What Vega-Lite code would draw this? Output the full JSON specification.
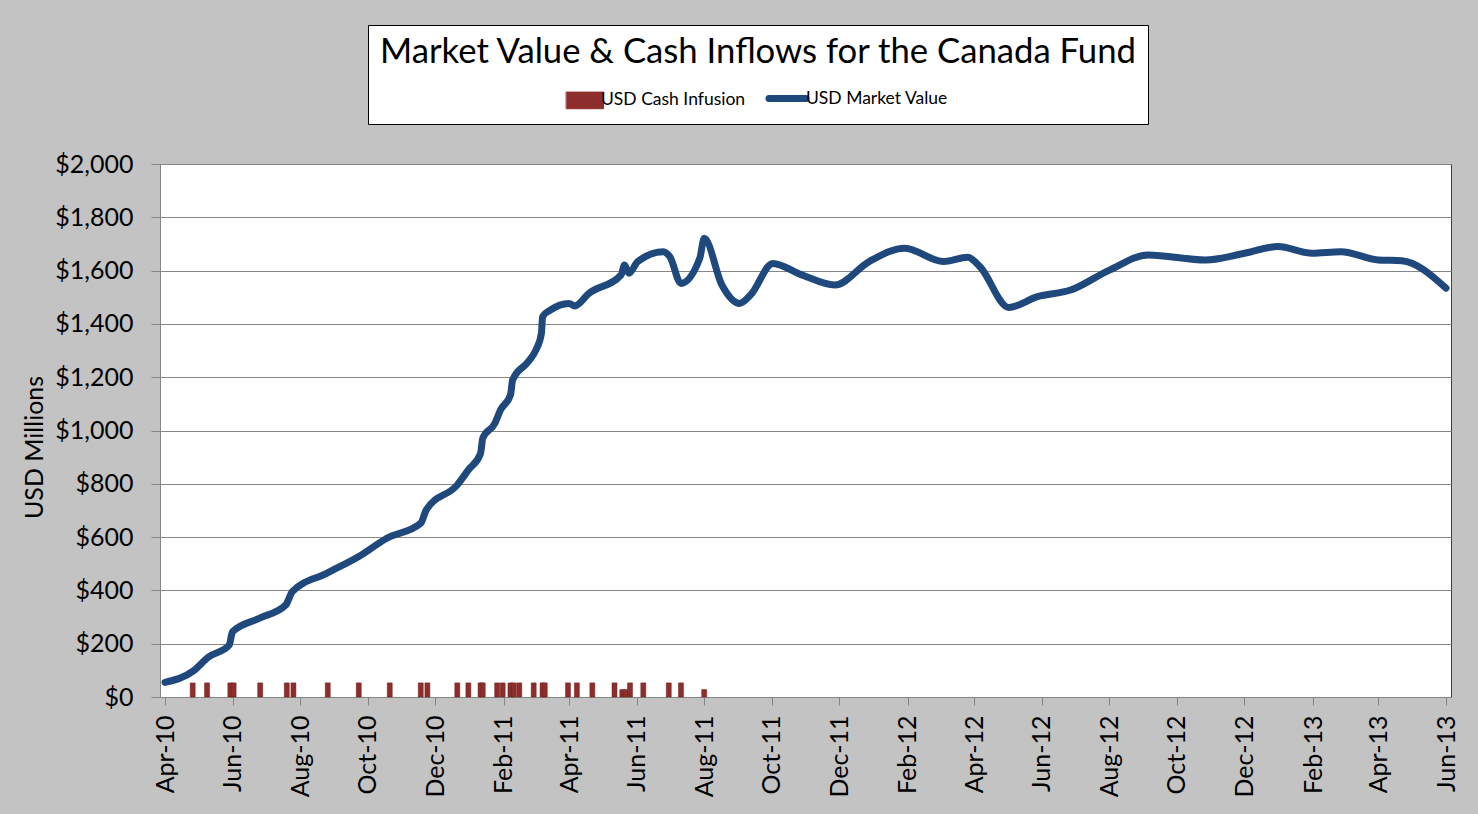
{
  "$schema": "https://vega.github.io/schema/vega-lite/v6.json",
  "width": 1291,
  "height": 533,
  "autosize": {"type": "none"},
  "padding": {"left": 160, "top": 164, "right": 27, "bottom": 117},
  "background": "#C3C3C3",
  "datasets": {
    "inflows": [
      {"date": "2010-04-26", "value": 53, "series": "USD Cash Infusion"},
      {"date": "2010-05-09", "value": 53, "series": "USD Cash Infusion"},
      {"date": "2010-05-30", "value": 53, "series": "USD Cash Infusion"},
      {"date": "2010-06-02", "value": 53, "series": "USD Cash Infusion"},
      {"date": "2010-06-26", "value": 53, "series": "USD Cash Infusion"},
      {"date": "2010-07-20", "value": 53, "series": "USD Cash Infusion"},
      {"date": "2010-07-26", "value": 53, "series": "USD Cash Infusion"},
      {"date": "2010-08-26", "value": 53, "series": "USD Cash Infusion"},
      {"date": "2010-09-23", "value": 53, "series": "USD Cash Infusion"},
      {"date": "2010-10-21", "value": 53, "series": "USD Cash Infusion"},
      {"date": "2010-11-18", "value": 53, "series": "USD Cash Infusion"},
      {"date": "2010-11-24", "value": 53, "series": "USD Cash Infusion"},
      {"date": "2010-12-21", "value": 53, "series": "USD Cash Infusion"},
      {"date": "2010-12-31", "value": 53, "series": "USD Cash Infusion"},
      {"date": "2011-01-11", "value": 53, "series": "USD Cash Infusion"},
      {"date": "2011-01-13", "value": 53, "series": "USD Cash Infusion"},
      {"date": "2011-01-26", "value": 53, "series": "USD Cash Infusion"},
      {"date": "2011-01-31", "value": 53, "series": "USD Cash Infusion"},
      {"date": "2011-02-07", "value": 53, "series": "USD Cash Infusion"},
      {"date": "2011-02-10", "value": 53, "series": "USD Cash Infusion"},
      {"date": "2011-02-15", "value": 53, "series": "USD Cash Infusion"},
      {"date": "2011-02-28", "value": 53, "series": "USD Cash Infusion"},
      {"date": "2011-03-08", "value": 53, "series": "USD Cash Infusion"},
      {"date": "2011-03-10", "value": 53, "series": "USD Cash Infusion"},
      {"date": "2011-03-31", "value": 53, "series": "USD Cash Infusion"},
      {"date": "2011-04-08", "value": 53, "series": "USD Cash Infusion"},
      {"date": "2011-04-22", "value": 53, "series": "USD Cash Infusion"},
      {"date": "2011-05-12", "value": 53, "series": "USD Cash Infusion"},
      {"date": "2011-05-19", "value": 28, "series": "USD Cash Infusion"},
      {"date": "2011-05-22", "value": 28, "series": "USD Cash Infusion"},
      {"date": "2011-05-26", "value": 53, "series": "USD Cash Infusion"},
      {"date": "2011-06-07", "value": 53, "series": "USD Cash Infusion"},
      {"date": "2011-06-30", "value": 53, "series": "USD Cash Infusion"},
      {"date": "2011-07-11", "value": 53, "series": "USD Cash Infusion"},
      {"date": "2011-08-01", "value": 28, "series": "USD Cash Infusion"}
    ],
    "market": [
      {"date": "2010-04-01", "value": 55, "series": "USD Market Value"},
      {"date": "2010-04-27", "value": 99, "series": "USD Market Value"},
      {"date": "2010-05-10", "value": 149, "series": "USD Market Value"},
      {"date": "2010-05-29", "value": 195, "series": "USD Market Value"},
      {"date": "2010-06-01", "value": 245, "series": "USD Market Value"},
      {"date": "2010-06-25", "value": 295, "series": "USD Market Value"},
      {"date": "2010-07-19", "value": 345, "series": "USD Market Value"},
      {"date": "2010-07-25", "value": 395, "series": "USD Market Value"},
      {"date": "2010-08-25", "value": 464, "series": "USD Market Value"},
      {"date": "2010-09-23", "value": 527, "series": "USD Market Value"},
      {"date": "2010-10-18", "value": 595, "series": "USD Market Value"},
      {"date": "2010-11-18", "value": 652, "series": "USD Market Value"},
      {"date": "2010-11-23", "value": 702, "series": "USD Market Value"},
      {"date": "2010-12-21", "value": 796, "series": "USD Market Value"},
      {"date": "2010-12-31", "value": 852, "series": "USD Market Value"},
      {"date": "2011-01-11", "value": 914, "series": "USD Market Value"},
      {"date": "2011-01-13", "value": 971, "series": "USD Market Value"},
      {"date": "2011-01-24", "value": 1027, "series": "USD Market Value"},
      {"date": "2011-01-29", "value": 1077, "series": "USD Market Value"},
      {"date": "2011-02-07", "value": 1133, "series": "USD Market Value"},
      {"date": "2011-02-09", "value": 1190, "series": "USD Market Value"},
      {"date": "2011-02-23", "value": 1258, "series": "USD Market Value"},
      {"date": "2011-03-02", "value": 1302, "series": "USD Market Value"},
      {"date": "2011-03-07", "value": 1365, "series": "USD Market Value"},
      {"date": "2011-03-08", "value": 1427, "series": "USD Market Value"},
      {"date": "2011-03-15", "value": 1452, "series": "USD Market Value"},
      {"date": "2011-04-01", "value": 1477, "series": "USD Market Value"},
      {"date": "2011-04-06", "value": 1467, "series": "USD Market Value"},
      {"date": "2011-04-19", "value": 1515, "series": "USD Market Value"},
      {"date": "2011-05-18", "value": 1584, "series": "USD Market Value"},
      {"date": "2011-05-21", "value": 1621, "series": "USD Market Value"},
      {"date": "2011-05-25", "value": 1590, "series": "USD Market Value"},
      {"date": "2011-06-02", "value": 1634, "series": "USD Market Value"},
      {"date": "2011-06-25", "value": 1671, "series": "USD Market Value"},
      {"date": "2011-07-01", "value": 1652, "series": "USD Market Value"},
      {"date": "2011-07-11", "value": 1552, "series": "USD Market Value"},
      {"date": "2011-07-28", "value": 1646, "series": "USD Market Value"},
      {"date": "2011-08-01", "value": 1721, "series": "USD Market Value"},
      {"date": "2011-08-17", "value": 1546, "series": "USD Market Value"},
      {"date": "2011-09-02", "value": 1477, "series": "USD Market Value"},
      {"date": "2011-09-12", "value": 1509, "series": "USD Market Value"},
      {"date": "2011-10-02", "value": 1627, "series": "USD Market Value"},
      {"date": "2011-10-28", "value": 1584, "series": "USD Market Value"},
      {"date": "2011-11-27", "value": 1546, "series": "USD Market Value"},
      {"date": "2011-12-28", "value": 1634, "series": "USD Market Value"},
      {"date": "2012-01-29", "value": 1684, "series": "USD Market Value"},
      {"date": "2012-03-04", "value": 1634, "series": "USD Market Value"},
      {"date": "2012-03-26", "value": 1650, "series": "USD Market Value"},
      {"date": "2012-04-06", "value": 1615, "series": "USD Market Value"},
      {"date": "2012-05-02", "value": 1462, "series": "USD Market Value"},
      {"date": "2012-05-28", "value": 1502, "series": "USD Market Value"},
      {"date": "2012-06-27", "value": 1527, "series": "USD Market Value"},
      {"date": "2012-08-01", "value": 1602, "series": "USD Market Value"},
      {"date": "2012-09-05", "value": 1659, "series": "USD Market Value"},
      {"date": "2012-10-27", "value": 1640, "series": "USD Market Value"},
      {"date": "2012-12-01", "value": 1665, "series": "USD Market Value"},
      {"date": "2012-12-31", "value": 1690, "series": "USD Market Value"},
      {"date": "2013-01-31", "value": 1665, "series": "USD Market Value"},
      {"date": "2013-02-26", "value": 1671, "series": "USD Market Value"},
      {"date": "2013-04-01", "value": 1640, "series": "USD Market Value"},
      {"date": "2013-04-22", "value": 1637, "series": "USD Market Value"},
      {"date": "2013-06-01", "value": 1534, "series": "USD Market Value"}
    ]
  },
  "encoding": {
    "x": {
      "field": "date",
      "type": "temporal",
      "scale": {
        "type": "utc",
        "domain": [
          {"year": 2010, "month": 4, "date": 1, "utc": true},
          {"year": 2013, "month": 6, "date": 1, "utc": true}
        ],
        "nice": false
      },
      "axis": {
        "title": null,
        "labelExpr": "utcFormat(datum.value, '%b-%y')",
        "labelAngle": -90,
        "labelFontSize": 25,
        "labelPadding": 10,
        "tickSize": 8,
        "grid": false,
        "labelOverlap": false,
        "labelFlush": false,
        "values": [
          {"year": 2010, "month": 4, "date": 1, "utc": true},
          {"year": 2010, "month": 6, "date": 1, "utc": true},
          {"year": 2010, "month": 8, "date": 1, "utc": true},
          {"year": 2010, "month": 10, "date": 1, "utc": true},
          {"year": 2010, "month": 12, "date": 1, "utc": true},
          {"year": 2011, "month": 2, "date": 1, "utc": true},
          {"year": 2011, "month": 4, "date": 1, "utc": true},
          {"year": 2011, "month": 6, "date": 1, "utc": true},
          {"year": 2011, "month": 8, "date": 1, "utc": true},
          {"year": 2011, "month": 10, "date": 1, "utc": true},
          {"year": 2011, "month": 12, "date": 1, "utc": true},
          {"year": 2012, "month": 2, "date": 1, "utc": true},
          {"year": 2012, "month": 4, "date": 1, "utc": true},
          {"year": 2012, "month": 6, "date": 1, "utc": true},
          {"year": 2012, "month": 8, "date": 1, "utc": true},
          {"year": 2012, "month": 10, "date": 1, "utc": true},
          {"year": 2012, "month": 12, "date": 1, "utc": true},
          {"year": 2013, "month": 2, "date": 1, "utc": true},
          {"year": 2013, "month": 4, "date": 1, "utc": true},
          {"year": 2013, "month": 6, "date": 1, "utc": true}
        ]
      }
    },
    "y": {
      "field": "value",
      "type": "quantitative",
      "scale": {"domain": [0, 2000], "nice": false},
      "axis": {
        "title": "USD Millions",
        "format": "$,.0f",
        "values": [0, 200, 400, 600, 800, 1000, 1200, 1400, 1600, 1800, 2000],
        "labelFontSize": 25,
        "labelPadding": 18,
        "tickSize": 9,
        "titleFontSize": 25,
        "titleFontWeight": "normal",
        "titleAngle": -90,
        "titleAlign": "center",
        "titleBaseline": "middle",
        "titleX": -126,
        "titleY": 283
      }
    },
    "color": {
      "field": "series",
      "type": "nominal",
      "scale": {
        "domain": ["USD Cash Infusion", "USD Market Value"],
        "range": ["#8E2E2C", "#1F497D"]
      },
      "legend": {
        "title": "Market Value & Cash Inflows for the Canada Fund",
        "orient": "none",
        "legendX": 208,
        "legendY": -139,
        "direction": "horizontal",
        "fillColor": "white",
        "strokeColor": "black",
        "padding": 11,
        "titleFontSize": 34.7,
        "titleFontWeight": "normal",
        "titleColor": "black",
        "titleLimit": 2000,
        "titlePadding": 19,
        "titleAnchor": "middle",
        "labelFontSize": 17.5,
        "labelColor": "black",
        "labelLimit": 400,
        "labelOffset": 15.5,
        "columnPadding": 9,
        "symbolSize": 1369,
        "symbolOffset": 0,
        "encode": {
          "symbols": {
            "update": {
              "x": {"signal": "datum.index === 0 ? 17 : 14.5"},
              "shape": {"signal": "datum.label === 'USD Market Value' ? 'stroke' : 'M-1,-0.45H1V0.45H-1Z'"},
              "strokeWidth": {"signal": "datum.label === 'USD Market Value' ? 7 : 1"},
              "strokeCap": {"value": "round"},
              "fill": {"signal": "datum.label === 'USD Market Value' ? 'transparent' : '#8E2E2C'"},
              "stroke": {"signal": "datum.label === 'USD Market Value' ? '#1F497D' : '#6E2220'"},
              "opacity": {"value": 1}
            }
          }
        }
      }
    }
  },
  "layer": [
    {
      "data": {"name": "inflows"},
      "mark": {"type": "bar", "size": 5, "stroke": "#6E2220", "strokeWidth": 0.5}
    },
    {
      "data": {"name": "market"},
      "mark": {"type": "line", "strokeWidth": 7, "interpolate": "monotone", "strokeCap": "round", "strokeJoin": "round"}
    }
  ],
  "config": {
    "font": "Lato",
    "view": {"stroke": "#404040", "strokeWidth": 1, "fill": "white"},
    "axis": {
      "labelFont": "Lato",
      "titleFont": "Lato",
      "labelColor": "black",
      "titleColor": "black",
      "domainColor": "#868686",
      "tickColor": "#868686",
      "gridColor": "#868686",
      "gridWidth": 1
    },
    "legend": {"labelFont": "Lato", "titleFont": "Lato"}
  }
}
